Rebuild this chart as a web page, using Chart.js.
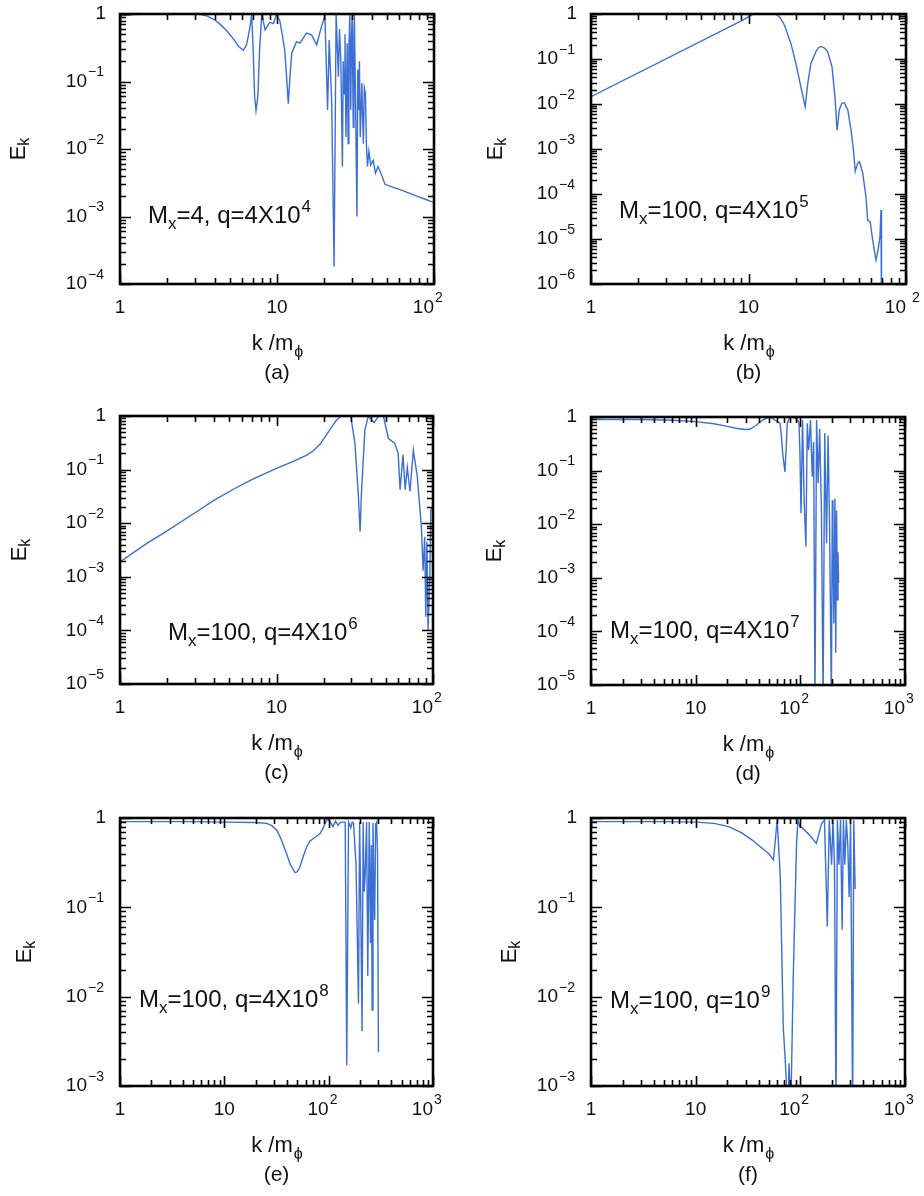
<!DOCTYPE html>
<html lang="en">
<head>
<meta charset="UTF-8">
<title>E_k spectra</title>
<script src="https://cdn.jsdelivr.net/npm/chart.js"></script>
<style>
  body { margin: 0; background: #fff; }
  #page { position: relative; width: 924px; height: 1196px; overflow: hidden; }
  canvas { position: absolute; }
</style>
</head>
<body>
<div id="page">
  <canvas id="pa" width="462" height="400" style="left:0;top:0"></canvas>
  <canvas id="pb" width="462" height="400" style="left:462px;top:0"></canvas>
  <canvas id="pc" width="462" height="400" style="left:0;top:400px"></canvas>
  <canvas id="pd" width="462" height="400" style="left:462px;top:400px"></canvas>
  <canvas id="pe" width="462" height="396" style="left:0;top:800px"></canvas>
  <canvas id="pf" width="462" height="396" style="left:462px;top:800px"></canvas>
</div>
<script>
// (a) Mx=4, q=4X10^4
const kA = [1, 1.2, 1.5, 3.2, 3.6, 4.0, 4.3, 4.8, 5.3, 5.7, 6.1, 6.4, 6.7, 6.9, 7.05, 7.2, 7.35, 7.55, 7.75, 8.0, 8.4, 9.0, 9.5, 9.95, 10.4, 10.8, 11.2, 11.5, 11.8, 12.1, 12.4, 13.3, 14.0, 15.4, 16.6, 17.9, 19.2, 20.2, 21.0, 21.5, 22.3, 23.1, 23.8, 24.6, 25.0, 25.5, 26.1, 26.4, 26.8, 27.1, 27.5, 28.0, 28.4, 28.7, 29.1, 29.5, 29.8, 30.1, 30.6, 30.9, 31.1, 31.6, 32.3, 32.7, 33.1, 33.5, 33.9, 34.7, 35.1, 35.5, 36.0, 36.6, 37.1, 37.7, 38.5, 39.5, 41, 42.4, 44, 46.4, 48.7, 55, 60.9, 70, 77.6, 88, 100];
const eA = [0.94, 0.98, 1, 1, 0.93, 0.82, 0.72, 0.56, 0.42, 0.33, 0.29, 0.35, 0.6, 1, 0.3, 0.06, 0.037, 0.06, 0.3, 1, 0.58, 0.75, 0.72, 1, 0.81, 0.5, 0.29, 0.12, 0.047, 0.12, 0.26, 0.39, 0.37, 0.52, 0.49, 0.35, 0.65, 0.93, 0.038, 0.41, 0.05, 1.8e-4, 1, 0.118, 0.6, 0.2, 0.0055, 0.2, 0.066, 0.5, 0.015, 0.37, 0.012, 0.3, 1, 0.038, 0.4, 0.95, 0.021, 0.5, 1, 0.066, 0.001, 0.15, 0.038, 0.2, 0.015, 0.094, 0.03, 0.012, 0.08, 0.066, 0.012, 0.0055, 0.0093, 0.0058, 0.0068, 0.0044, 0.0055, 0.0041, 0.003, 0.0027, 0.0025, 0.0022, 0.002, 0.0018, 0.0016];

// (b) Mx=100, q=4X10^5
const kB = [1, 9.2, 10.8, 14.9, 15.8, 16.9, 18.6, 20.0, 21.5, 22.9, 23.8, 24.9, 26.8, 27.8, 28.9, 30.2, 31.8, 33.9, 35.4, 36.5, 37.7, 39.1, 40.6, 42.7, 44.8, 46.4, 47.6, 49.3, 50.7, 53.1, 55.7, 57.1, 59.3, 61.4, 64.5, 66.5, 68.3, 69.4, 69.9];
const eB = [0.0145, 0.73, 1, 1, 0.85, 0.57, 0.22, 0.08, 0.024, 0.0087, 0.029, 0.08, 0.146, 0.178, 0.19, 0.178, 0.146, 0.067, 0.0146, 0.0026, 0.0074, 0.0104, 0.0107, 0.0074, 0.0026, 0.00095, 0.00032, 0.00048, 0.00052, 0.00029, 8.7e-5, 2.6e-5, 2.4e-5, 9.5e-6, 3.4e-6, 5.7e-6, 1.1e-5, 4.4e-5, 1e-7];

// (c) Mx=100, q=4X10^6
const kC = [1, 1.5, 2, 3, 4, 5.3, 7, 10, 13, 15.5, 17.2, 19, 20.9, 22.5, 24.2, 26.0, 29.8, 31.7, 33.3, 34.2, 34.9, 36.7, 38.6, 42, 45, 48.2, 51.9, 56.9, 59.9, 61.6, 64.3, 66.4, 68.5, 71.3, 74.9, 79.4, 81.6, 84.3, 86.4, 88.5, 89.9, 91.4, 93.0, 95.4, 96.9, 100];
const eC = [0.0019, 0.0043, 0.0072, 0.0155, 0.027, 0.043, 0.066, 0.105, 0.145, 0.185, 0.225, 0.3, 0.45, 0.62, 0.84, 1, 1, 0.31, 0.036, 0.0069, 0.036, 0.55, 1, 0.75, 1, 1, 0.38, 0.31, 0.2, 0.042, 0.19, 0.042, 0.11, 0.039, 0.23, 0.074, 0.027, 0.0086, 0.0013, 0.0056, 1.8e-4, 0.0045, 1.0e-4, 0.001, 0.018, 0.02];

// (d) Mx=100, q=4X10^7
const kD = [1, 3, 6, 10, 15, 20, 25, 29.8, 33, 37, 41, 44, 48, 51, 64, 66, 68, 71.3, 73, 75, 79, 92, 97, 99, 101.5, 105, 108.7, 113, 116.5, 120, 125, 130, 134, 138, 143, 148, 153, 159, 165, 171, 178, 184, 190, 198, 202, 205, 209, 214, 218, 222, 226, 229, 232];
const eD = [0.9, 0.9, 0.87, 0.82, 0.75, 0.67, 0.61, 0.585, 0.59, 0.68, 0.8, 0.88, 0.96, 1, 0.76, 0.43, 0.2, 0.095, 0.24, 0.76, 1, 0.95, 0.78, 0.24, 0.016, 0.88, 0.028, 0.0038, 0.76, 0.24, 0.88, 0.077, 0.34, 5e-6, 0.88, 0.058, 0.6, 0.018, 5e-6, 0.5, 0.0044, 0.45, 0.012, 5e-6, 0.028, 0.003, 1.4e-4, 0.03, 4e-5, 0.018, 3.9e-4, 0.003, 8e-4];

// (e) Mx=100, q=4X10^8
const kE = [1, 5, 10, 20, 25.5, 28.5, 31.8, 35, 39.4, 43, 47.6, 50, 53, 57, 61.7, 66, 71.3, 76, 82.7, 88, 92.3, 97, 104, 110, 116, 123, 130, 144, 149, 155, 163, 168, 173, 183, 193, 198, 203, 209, 214, 219, 224, 231, 237, 245, 252, 257, 261, 266, 271, 276, 282, 288, 294, 300];
const eE = [0.91, 0.91, 0.9, 0.89, 0.87, 0.82, 0.73, 0.58, 0.4, 0.3, 0.244, 0.25, 0.285, 0.37, 0.48, 0.55, 0.59, 0.62, 0.67, 0.76, 0.87, 0.97, 0.9, 0.8, 0.92, 0.83, 0.9, 0.9, 0.0017, 0.9, 0.78, 0.9, 0.88, 0.3, 0.0084, 0.9, 0.1, 0.0041, 0.9, 0.15, 0.23, 0.9, 0.017, 0.9, 0.04, 0.5, 0.0071, 0.88, 0.2, 0.072, 0.85, 0.9, 0.4, 0.0024];

// (f) Mx=100, q=10^9
const kF = [1, 5, 10, 15, 20.7, 27, 34.5, 42, 49.8, 55.4, 60.1, 64.3, 68.7, 72, 76.2, 78, 81, 85.6, 92, 95, 99, 104, 123, 142, 147, 160, 170, 181, 189, 199, 205, 212, 219, 226, 234, 242, 251, 258, 266, 275, 284, 293, 302, 316, 324, 334];
const eF = [0.91, 0.91, 0.9, 0.87, 0.8, 0.69, 0.57, 0.47, 0.4, 0.34, 0.95, 0.22, 0.0046, 0.0018, 5e-4, 0.0018, 5e-4, 0.017, 0.52, 0.95, 0.8, 0.78, 0.64, 0.52, 0.6, 0.87, 0.95, 0.061, 0.95, 0.3, 0.95, 0.3, 5e-4, 0.95, 0.3, 0.95, 0.056, 0.95, 0.3, 0.95, 0.5, 0.13, 0.95, 5e-4, 0.95, 0.16];

// tick labels
const xTicks2 = [1, 10, 100];
const xTicks3 = [1, 10, 100, 1000];
const yTicks6 = [1, 1e-1, 1e-2, 1e-3, 1e-4, 1e-5, 1e-6];

const blue = '#3b6fd6';
const FONT = '"Liberation Sans", Arial, Helvetica, sans-serif';

const panels = [
  { id: 'pa', k: kA, e: eA, xTicks: xTicks2, yMin: 1e-4, pad: { left: 120, top: 14, right: 28, bottom: 116 },
    note: ['=4, q=4X10', '4'], noteAt: [148, 223], tag: '(a)', yGap: 101 },
  { id: 'pb', k: kB, e: eB, xTicks: xTicks2, yMin: 1e-6, pad: { left: 129, top: 14, right: 18, bottom: 116 },
    note: ['=100, q=4X10', '5'], noteAt: [157, 218], tag: '(b)', yGap: 95, spaced: true },
  { id: 'pc', k: kC, e: eC, xTicks: xTicks2, yMin: 1e-5, pad: { left: 120, top: 16, right: 29, bottom: 116 },
    note: ['=100, q=4X10', '6'], noteAt: [168, 240], tag: '(c)', yGap: 100 },
  { id: 'pd', k: kD, e: eD, xTicks: xTicks3, yMin: 1e-5, pad: { left: 129, top: 17, right: 19, bottom: 115 },
    note: ['=100, q=4X10', '7'], noteAt: [148, 238], tag: '(d)', yGap: 96 },
  { id: 'pe', k: kE, e: eE, xTicks: xTicks3, yMin: 1e-3, pad: { left: 120, top: 18, right: 29, bottom: 110 },
    note: ['=100, q=4X10', '8'], noteAt: [139, 207], tag: '(e)', yGap: 95 },
  { id: 'pf', k: kF, e: eF, xTicks: xTicks3, yMin: 1e-3, pad: { left: 129, top: 18, right: 19, bottom: 110 },
    note: ['=100, q=10', '9'], noteAt: [148, 208], tag: '(f)', yGap: 81 }
];

function logTicks(min, max) {
  const out = [];
  for (let p = Math.floor(Math.log10(min)); p <= Math.ceil(Math.log10(max)); p++) {
    for (let m = 1; m < 10; m++) {
      const v = m * Math.pow(10, p);
      if (v >= min * 0.999 && v <= max * 1.001) out.push({ v, major: m === 1 });
    }
  }
  return out;
}

function expText(v) {
  const p = Math.round(Math.log10(v));
  return p < 0 ? '\u2212' + (-p) : String(p);
}

function makeFrame(p) {
  return {
    id: 'frame',
    afterDraw(chart) {
      const { ctx, chartArea: a, scales: { x, y } } = chart;
      ctx.save();
      ctx.strokeStyle = '#000';
      ctx.fillStyle = '#111';

      // inward ticks on all four sides
      ctx.lineWidth = 1.6;
      ctx.beginPath();
      for (const t of logTicks(x.min, x.max)) {
        const px = Math.round(x.getPixelForValue(t.v)) + 0.5;
        const len = t.major ? 10 : 6;
        ctx.moveTo(px, a.bottom); ctx.lineTo(px, a.bottom - len);
        ctx.moveTo(px, a.top); ctx.lineTo(px, a.top + len);
      }
      for (const t of logTicks(y.min, y.max)) {
        const py = Math.round(y.getPixelForValue(t.v)) + 0.5;
        const len = t.major ? 11 : 6;
        ctx.moveTo(a.left, py); ctx.lineTo(a.left + len, py);
        ctx.moveTo(a.right, py); ctx.lineTo(a.right - len, py);
      }
      ctx.stroke();

      ctx.lineWidth = 2.6;
      ctx.strokeRect(a.left, a.top, a.right - a.left, a.bottom - a.top);

      // x tick labels
      ctx.textBaseline = 'middle';
      const ly = a.bottom + 24;
      for (const v of p.xTicks) {
        const px = x.getPixelForValue(v);
        ctx.font = '19px ' + FONT;
        if (v < 100) {
          ctx.textAlign = 'center';
          ctx.fillText(String(v), px, ly);
        } else {
          ctx.textAlign = 'right';
          ctx.fillText('10', px, ly);
          ctx.textAlign = 'left';
          ctx.font = '14px ' + FONT;
          ctx.fillText(expText(v), px + (p.spaced ? 6 : 1), ly - 10);
        }
      }

      // y tick labels
      for (const v of yTicks6) {
        if (v < y.min * 0.999) continue;
        const py = y.getPixelForValue(v);
        ctx.font = '19px ' + FONT;
        ctx.textAlign = 'right';
        if (v === 1) {
          ctx.fillText('1', a.left - 14, Math.max(py, 9));
        } else {
          ctx.fillText('10', a.left - 33, py);
          ctx.font = '14px ' + FONT;
          ctx.textAlign = 'left';
          ctx.fillText(expText(v), a.left - 32, py - 9);
        }
      }

      // x axis title and panel tag
      const cx = (a.left + a.right) / 2;
      ctx.textBaseline = 'alphabetic';
      ctx.textAlign = 'left';
      ctx.font = '22px ' + FONT;
      const w1 = ctx.measureText('k /m').width;
      ctx.font = '16px ' + FONT;
      const w2 = ctx.measureText('\u03d5').width;
      const tx = cx - (w1 + w2) / 2;
      ctx.font = '22px ' + FONT;
      ctx.fillText('k /m', tx, a.bottom + 66);
      ctx.font = '16px ' + FONT;
      ctx.fillText('\u03d5', tx + w1 + 1, a.bottom + 73);
      ctx.font = '21px ' + FONT;
      ctx.textAlign = 'center';
      ctx.fillText(p.tag, cx, a.bottom + 95);

      // y axis title, rotated
      ctx.save();
      ctx.translate(a.left - p.yGap, (a.top + a.bottom) / 2);
      ctx.rotate(-Math.PI / 2);
      ctx.textAlign = 'left';
      ctx.textBaseline = 'middle';
      ctx.font = '22px ' + FONT;
      const we = ctx.measureText('E').width;
      ctx.fillText('E', -(we + 8) / 2, 0);
      ctx.font = '16px ' + FONT;
      ctx.fillText('k', -(we + 8) / 2 + we, 6);
      ctx.restore();

      // annotation
      let nx = p.noteAt[0];
      const ny = p.noteAt[1];
      ctx.textAlign = 'left';
      ctx.textBaseline = 'alphabetic';
      ctx.font = '24px ' + FONT;
      ctx.fillText('M', nx, ny);
      nx += ctx.measureText('M').width;
      ctx.font = '17px ' + FONT;
      ctx.fillText('x', nx, ny + 6);
      nx += ctx.measureText('x').width;
      ctx.font = '24px ' + FONT;
      ctx.fillText(p.note[0], nx, ny);
      nx += ctx.measureText(p.note[0]).width;
      ctx.font = '17px ' + FONT;
      ctx.fillText(p.note[1], nx + 1, ny - 11);

      ctx.restore();
    }
  };
}

for (const p of panels) {
  new Chart(document.getElementById(p.id), {
    type: 'line',
    data: {
      datasets: [{
        data: p.k.map((k, i) => ({ x: k, y: p.e[i] })),
        borderColor: blue,
        borderWidth: 1.4,
        pointRadius: 0,
        tension: 0,
        fill: false
      }]
    },
    options: {
      responsive: false,
      animation: false,
      events: [],
      layout: { padding: p.pad },
      plugins: { legend: { display: false }, tooltip: { enabled: false } },
      scales: {
        x: { type: 'logarithmic', min: 1, max: p.xTicks[p.xTicks.length - 1], display: false },
        y: { type: 'logarithmic', min: p.yMin, max: 1, display: false }
      }
    },
    plugins: [makeFrame(p)]
  });
}
</script>
</body>
</html>
